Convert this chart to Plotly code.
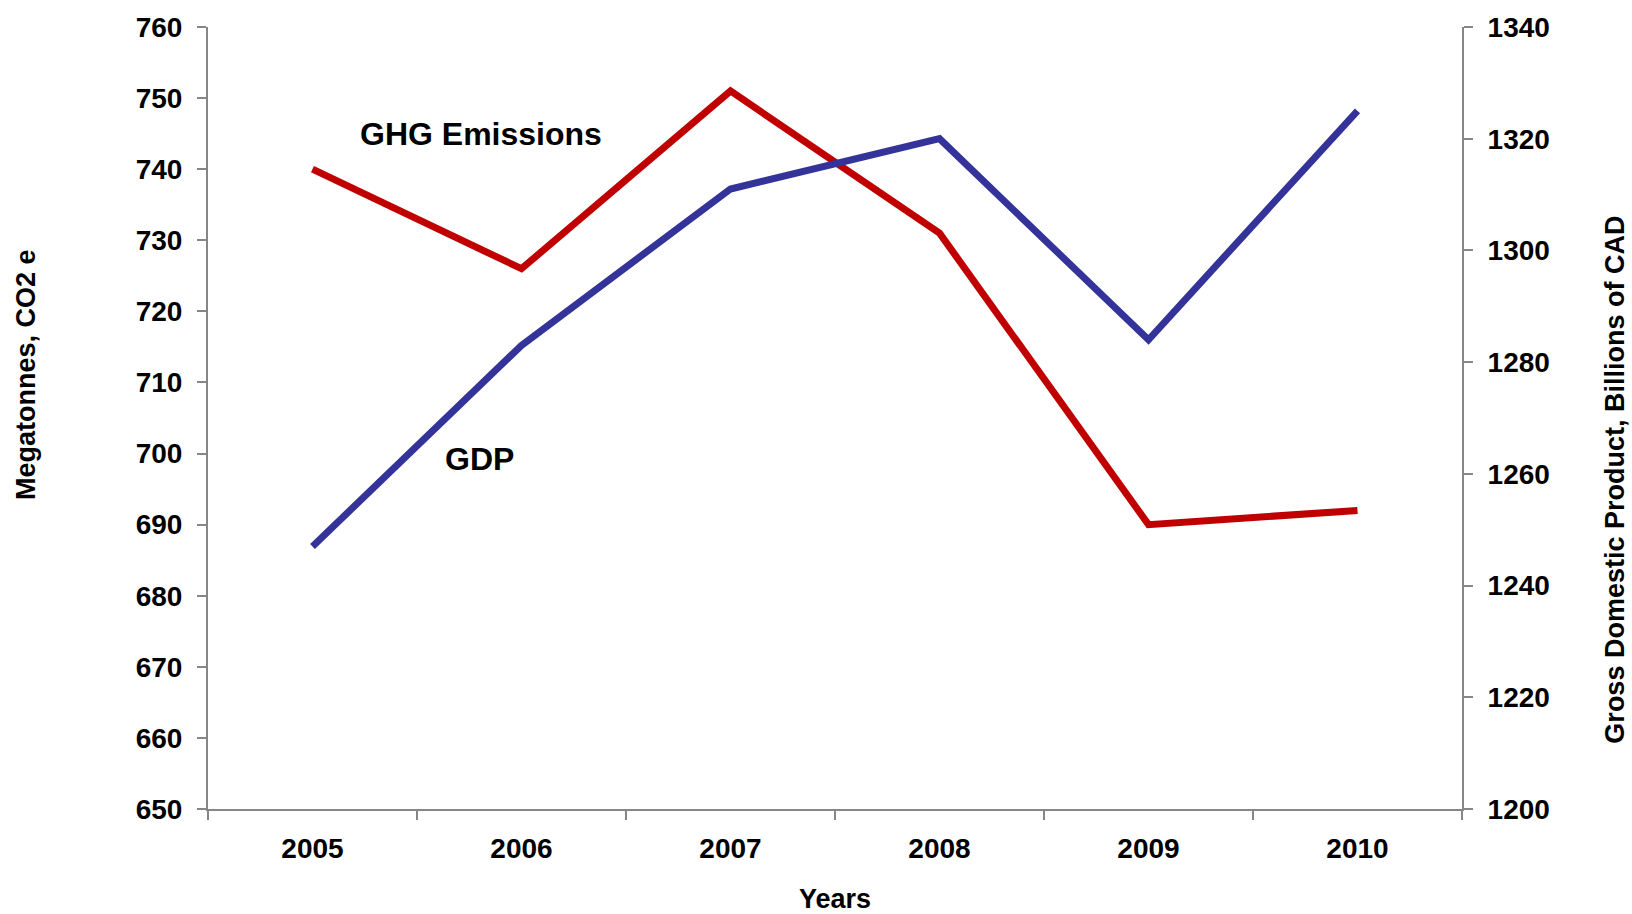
import plotly.graph_objects as go

years = ["2005", "2006", "2007", "2008", "2009", "2010"]
ghg_emissions = [740, 726, 751, 731, 690, 692]
gdp = [1247, 1283, 1311, 1320, 1284, 1325]

left_ticks = list(range(650, 761, 10))
right_ticks = list(range(1200, 1341, 20))

FONT = "Liberation Sans, Arial, sans-serif"
AXIS_COLOR = "#868686"
RED = "#C00000"
BLUE = "#333399"

fig = go.Figure()
fig.add_trace(go.Scatter(x=years, y=ghg_emissions, mode="lines",
                         line=dict(color=RED, width=7), name="GHG Emissions",
                         yaxis="y"))
fig.add_trace(go.Scatter(x=years, y=gdp, mode="lines",
                         line=dict(color=BLUE, width=7), name="GDP",
                         yaxis="y2"))

tickfont = dict(family=FONT, size=28, color="black", weight="bold")

TOP = 16
BOTTOM_PX = 809
PLOT_H = BOTTOM_PX - TOP

fig.update_layout(
    width=1632, height=914,
    margin=dict(l=208, r=170, t=TOP, b=914 - BOTTOM_PX),
    paper_bgcolor="white", plot_bgcolor="white",
    showlegend=False,
    xaxis=dict(type="category", range=[-0.5, 5.5], tickson="boundaries",
               ticks="outside", ticklen=9, tickwidth=2, tickcolor=AXIS_COLOR,
               showline=True, linecolor=AXIS_COLOR, linewidth=2,
               ticklabelstandoff=13,
               showgrid=False, zeroline=False, tickfont=tickfont),
    yaxis=dict(range=[650, 760], tickvals=left_ticks, ticks="outside",
               ticklen=9, tickwidth=2, tickcolor=AXIS_COLOR,
               showline=True, linecolor=AXIS_COLOR, linewidth=2,
               ticklabelstandoff=9,
               showgrid=False, zeroline=False, tickfont=tickfont),
    yaxis2=dict(range=[1200, 1340], tickvals=right_ticks, overlaying="y",
                side="right", ticks="outside", ticklen=9, tickwidth=2,
                tickcolor=AXIS_COLOR, showline=True, linecolor=AXIS_COLOR,
                linewidth=2, ticklabelstandoff=9,
                showgrid=False, zeroline=False, tickfont=tickfont),
)

title_font = dict(family=FONT, size=27, color="black", weight="bold")
label_font = dict(family=FONT, size=32, color="black", weight="bold")


def px(x, y):
    return (x - 208) / 1254, (BOTTOM_PX - y) / PLOT_H


ax, ay = px(26, 369)
fig.add_annotation(text="Megatonnes, CO2 e", textangle=-90, font=title_font,
                   xref="paper", yref="paper", x=ax, y=ay, showarrow=False,
                   xanchor="center", yanchor="middle")
ax, ay = px(1632, 475)
fig.add_annotation(text="Gross Domestic Product, Billions of CAD", textangle=-90,
                   font=title_font, xref="paper", yref="paper", x=ax, y=ay,
                   showarrow=False, xanchor="right", yanchor="middle")
ax, ay = px(835, 914)
fig.add_annotation(text="Years", font=title_font, xref="paper", yref="paper",
                   x=ax, y=ay, showarrow=False, xanchor="center",
                   yanchor="bottom", yshift=-3)
ax, ay = px(481, 124)
fig.add_annotation(text="GHG Emissions", font=label_font, xref="paper", yref="paper",
                   x=ax, y=ay, showarrow=False, xanchor="center", yanchor="middle")
ax, ay = px(479, 454)
fig.add_annotation(text="GDP", font=label_font, xref="paper", yref="paper",
                   x=ax, y=ay, showarrow=False, xanchor="center", yanchor="middle")

fig.write_html("out.html", config={"displayModeBar": False},
               post_script="document.body.style.margin='0';")
